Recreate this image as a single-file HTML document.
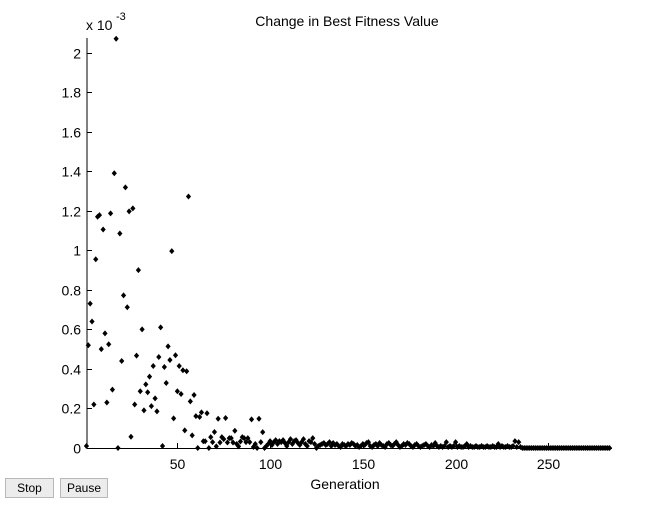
<!DOCTYPE html>
<html><head><meta charset="utf-8">
<style>
body{margin:0;width:672px;height:505px;background:#fff;overflow:hidden;font-family:"Liberation Sans",Arial,sans-serif;position:relative}
.btn{position:absolute;top:478px;height:18px;background:#ececec;border:1px solid #b8b8b8;font-size:12px;line-height:18px;text-align:center;color:#000;font-family:"Liberation Sans",sans-serif}
</style></head><body>
<svg id="chart" width="672" height="505" style="position:absolute;left:0;top:0" font-family="Liberation Sans, Arial, sans-serif"></svg>
<div class="btn" style="left:5px;width:47px">Stop</div>
<div class="btn" style="left:60px;width:46px">Pause</div>
<script>
const xTicks=[50,100,150,200,250];
const yTicks=[0,0.2,0.4,0.6,0.8,1,1.2,1.4,1.6,1.8,2];
const yTickLabels=["0","0.2","0.4","0.6","0.8","1","1.2","1.4","1.6","1.8","2"];
const changeValues=[
0.01,0.52,0.73,0.64,0.22,0.955,1.17,1.178,0.50,1.105,
0.58,0.23,0.525,1.187,0.295,1.39,2.07,0.0,1.085,0.44,
0.772,1.318,0.712,1.197,0.057,1.212,0.22,0.467,0.9,0.287,
0.60,0.19,0.322,0.282,0.361,0.212,0.415,0.251,0.185,0.46,
0.61,0.01,0.41,0.329,0.514,0.445,0.996,0.15,0.469,0.287,
0.415,0.273,0.393,0.089,0.388,1.272,0.236,0.064,0.268,0.161,
0,0.157,0.18,0.034,0.034,0.176,0,0.055,0.03,0.081,
0.008,0.148,0.028,0.055,0.045,0.152,0.028,0.05,0.05,0.028,
0.087,0.02,0.008,0.033,0.055,0.05,0.03,0.05,0.03,0.145,
0.005,0.02,0,0.148,0.03,0.08,0,0.01,0.02,0.035,
0.015,0.03,0.04,0.02,0.035,0.03,0.04,0.025,0.01,0.03,
0.045,0.02,0.035,0.04,0.025,0.015,0.03,0.045,0.02,0.01,
0.035,0.03,0.05,0.02,0,0.01,0.015,0.02,0.025,0.015,
0.02,0.03,0.01,0.025,0.015,0.02,0.01,0.005,0.02,0.015,
0.01,0.02,0.015,0.025,0.02,0.01,0.015,0.005,0.01,0.02,
0.015,0.025,0.03,0.01,0.005,0.015,0.02,0.01,0.025,0.015,
0.01,0.005,0.02,0.025,0.015,0.01,0.02,0.03,0.015,0.005,
0.01,0.02,0.015,0.025,0.02,0.01,0.005,0.015,0.02,0.01,
0.005,0.01,0.015,0.02,0.01,0.005,0.015,0.01,0.025,0.01,
0.005,0.01,0.005,0.01,0.03,0.005,0.01,0.005,0.01,0.03,
0.005,0.01,0.005,0.005,0.01,0.02,0.005,0.01,0.005,0.005,
0.01,0.005,0.005,0.01,0.005,0.005,0.01,0.005,0.005,0.01,
0.005,0.005,0.02,0.005,0.01,0.005,0.005,0.01,0.005,0.005,
0.01,0.035,0.005,0.03,0.005,0,0,0,0,0,
0,0,0,0,0,0,0,0,0,0,
0,0,0,0,0,0,0,0,0,0,
0,0,0,0,0,0,0,0,0,0,
0,0,0,0,0,0,0,0,0,0,
0,0,0
];
const NS="http://www.w3.org/2000/svg";
const svg=document.getElementById('chart');
const X=g=>84.6+1.855*g;
const Y=v=>448-197.7*v;
function mk(tag,attrs,text){const e=document.createElementNS(NS,tag);for(const k in attrs)e.setAttribute(k,attrs[k]);if(text!==undefined)e.textContent=text;svg.appendChild(e);return e;}
let e;
e=mk('line',{x1:87,y1:38,x2:87,y2:448.5,stroke:'#000','stroke-width':1});


e=mk('line',{x1:87,y1:448.5,x2:612,y2:448.5,stroke:'#000','stroke-width':1});


xTicks.forEach(t=>{
  const x=Math.round(X(t))+0.5;
  e=mk('line',{x1:x,y1:448,x2:x,y2:443,stroke:'#000'});
  
  
  e=mk('text',{x:x,y:469,'font-size':14,'text-anchor':'middle',fill:'#000'},String(t));
  
  
});
yTicks.forEach((t,i)=>{
  const y=Math.round(Y(t))+0.5;
  e=mk('line',{x1:87,y1:y,x2:92,y2:y,stroke:'#000'});
  
  
  e=mk('text',{x:81,y:y+5,'font-size':14,'text-anchor':'end',fill:'#000'},yTickLabels[i]);
  
  
});
e=mk('text',{x:86,y:30,'font-size':14,fill:'#000'},'x 10');


e=mk('text',{x:116,y:20,'font-size':11,fill:'#000'},'-3');


e=mk('text',{x:347,y:26,'font-size':14,'text-anchor':'middle',fill:'#000'},'Change in Best Fitness Value');


e=mk('text',{x:345,y:489,'font-size':14,'text-anchor':'middle',fill:'#000'},'Generation');


changeValues.forEach((v,i)=>{
  const x=X(i+1),y=Y(v);
  e=mk('path',{d:`M${x} ${y-3}L${x+2.6} ${y}L${x} ${y+3}L${x-2.6} ${y}Z`,fill:'#000'});
  
  
});
</script>
</body></html>
